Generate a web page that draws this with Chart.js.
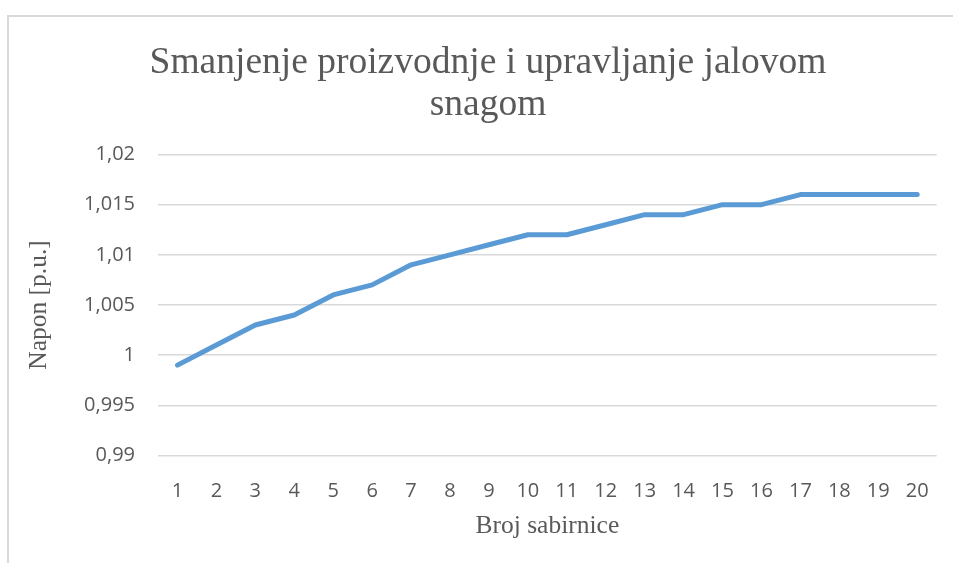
<!DOCTYPE html>
<html>
<head>
<meta charset="utf-8">
<script src="https://cdn.jsdelivr.net/npm/chart.js@4/dist/chart.umd.min.js"></script>
<style>
html,body{margin:0;padding:0;background:#fff;overflow:hidden;}
#wrap{position:relative;width:953px;height:563px;}
#frame{position:absolute;left:7px;top:15px;width:980px;height:600px;border:2px solid #d9d9d9;box-sizing:border-box;}
canvas{position:absolute;left:0;top:0;}
</style>
</head>
<body>
<div id="wrap">
<div id="frame"></div>
<canvas id="c" width="953" height="563"></canvas>
</div>
<script>
const categories = ['1','2','3','4','5','6','7','8','9','10','11','12','13','14','15','16','17','18','19','20'];
const napon = [0.999,1.001,1.003,1.004,1.006,1.007,1.009,1.010,1.011,1.012,1.012,1.013,1.014,1.014,1.015,1.015,1.016,1.016,1.016,1.016];
const titleLines = ['Smanjenje proizvodnje i upravljanje jalovom','snagom'];
const yTitle = 'Napon [p.u.]';
const xTitle = 'Broj sabirnice';

const serif = "'Liberation Serif','Times New Roman',serif";
const sans = "'Open Sans','Noto Sans',sans-serif";

new Chart(document.getElementById('c'), {
  type: 'line',
  data: {
    labels: categories,
    datasets: [{
      data: napon,
      borderColor: '#5B9BD5',
      borderWidth: 5,
      pointRadius: 0,
      tension: 0,
      fill: false,
      borderCapStyle: 'round',
      borderJoinStyle: 'round'
    }]
  },
  options: {
    responsive: false,
    animation: false,
    layout: { padding: { left: 37, right: 14, top: 43, bottom: 21 } },
    plugins: {
      legend: { display: false },
      tooltip: { enabled: false },
      title: {
        display: true,
        text: titleLines,
        color: '#595959',
        font: { family: serif, size: 37.5, weight: 'normal', lineHeight: 1.1 },
        padding: { top: 0, bottom: 29 }
      }
    },
    scales: {
      x: {
        offset: true,
        grid: { display: false, drawTicks: false, offset: true },
        border: { display: false },
        ticks: { color: '#595959', font: { family: sans, size: 20 }, padding: 24, maxRotation: 0, autoSkip: false },
        title: { display: true, text: xTitle, color: '#595959', font: { family: serif, size: 25.5 }, padding: { top: -16, bottom: 0 } }
      },
      y: {
        min: 0.99,
        max: 1.02,
        grid: { color: '#d9d9d9', lineWidth: 1.5, drawTicks: false },
        border: { display: false },
        ticks: {
          stepSize: 0.005,
          color: '#595959',
          font: { family: sans, size: 20 },
          padding: 23,
          callback: v => String(Math.round(v * 1000) / 1000).replace('.', ',')
        },
        title: { display: true, text: yTitle, color: '#595959', font: { family: serif, size: 25.5 }, padding: { top: -13, bottom: 0 } },
        afterFit: s => { s.width = 121; }
      }
    }
  }
});
</script>
</body>
</html>
